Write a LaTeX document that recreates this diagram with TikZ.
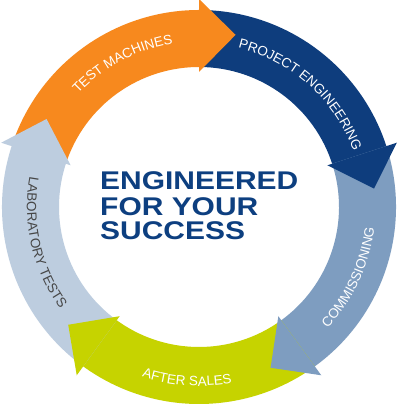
\documentclass[tikz,border=0pt]{standalone}
\usepackage{fontspec}
\setmainfont{Liberation Sans}
\usetikzlibrary{decorations.text}
\definecolor{cOrange}{RGB}{247,137,30}
\definecolor{cNavy}{RGB}{14,61,125}
\definecolor{cSteel}{RGB}{126,157,192}
\definecolor{cPale}{RGB}{189,205,223}
\definecolor{cLime}{RGB}{198,211,0}
\definecolor{cTitle}{RGB}{13,63,128}
\definecolor{cLabGrey}{RGB}{70,70,70}
\tikzset{
  title/.style={font=\bfseries\fontsize{25.6}{25}\selectfont, text=cTitle, inner sep=0pt, xscale=1.17, anchor=base west},
  arclabel/.style={decorate, decoration={text along path, text align=center, text color=#1}},
}
\newcommand{\lblfont}{\fontsize{13.5}{14}\selectfont}
\begin{document}
\begin{tikzpicture}[x=1pt,y=1pt]
\fill[white] (0,0) rectangle (400,409);
\useasboundingbox (0,0) rectangle (400,409);
\coordinate (C) at (199,202);
\begin{scope}[shift={(C)}]
  % bands
  \foreach \a/\col in {162/cOrange, 90/cNavy, 18/cSteel, -54/cLime, -126/cPale} {
    \fill[\col] ({\a}:197) arc[start angle={\a}, end angle={\a-73}, radius=197]
      -- ({\a-73}:140) arc[start angle={\a-73}, end angle={\a}, radius=140] -- cycle;
  }
  % arrow heads
  \foreach \a/\col in {162/cOrange, 90/cNavy, 18/cSteel, -54/cLime, -126/cPale} {
    \fill[\col] ({\a-72}:135) -- ({\a-72}:208) -- ({\a-84}:176) -- cycle;
  }
  % labels
  \path[arclabel=white, decoration={text={|\lblfont|TEST MACHINES}}]
    (158:165.5) arc[start angle=158, end angle=78, radius=165.5];
  \path[arclabel=white, decoration={text={|\lblfont|PROJECT ENGINEERING}}]
    (88:164) arc[start angle=88, end angle=8, radius=164];
  \path[arclabel=white, decoration={text={|\lblfont|COMMISSIONING}}]
    (-65:176.5) arc[start angle=-65, end angle=15, radius=176.5];
  \path[arclabel=white, decoration={text={|\lblfont|AFTER SALES}}]
    (-134:179) arc[start angle=-134, end angle=-54, radius=179];
  \path[arclabel=cLabGrey, decoration={text={|\lblfont|LABORATORY TESTS}}]
    (153:172) arc[start angle=153, end angle=233, radius=172];
\end{scope}
\node[title] (t1) at (100,219) {ENGINEERED};
\node[title] (t2) at (100,193) {FOR YOUR};
\node[title] (t3) at (100,169) {SUCCESS};
\end{tikzpicture}
\end{document}
